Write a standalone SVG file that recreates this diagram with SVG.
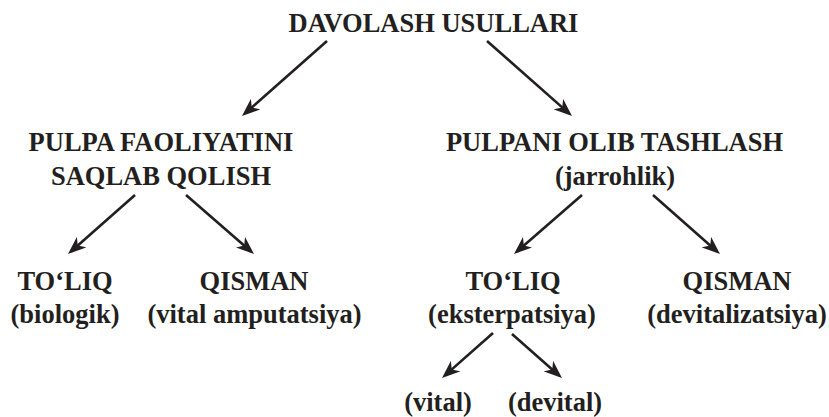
<svg xmlns="http://www.w3.org/2000/svg" width="829" height="417" viewBox="0 0 829 417">
<style>
text{font-family:"Liberation Serif","Times New Roman",serif;font-weight:bold;font-size:26.5px;fill:#231f20;text-anchor:middle}
.c line{stroke:#231f20;stroke-width:2.6;marker-end:url(#ah)}
</style>
<defs>
<marker id="ah" markerUnits="userSpaceOnUse" viewBox="0 -7 18 14" refX="14" refY="0" markerWidth="18" markerHeight="14" orient="auto">
<path d="M0,-7 L18,0 L0,7 L5,0 z" fill="#231f20"/>
</marker>
</defs>
<rect width="829" height="417" fill="#fff"/>
<g id="root"><text x="433.5" y="32">DAVOLASH USULLARI</text></g>
<g id="n-saqlash"><text x="161" y="151">PULPA FAOLIYATINI</text><text x="161" y="185">SAQLAB QOLISH</text></g>
<g id="n-olib"><text x="614.5" y="151">PULPANI OLIB TASHLASH</text><text x="615" y="185">(jarrohlik)</text></g>
<g id="n-toliq1"><text x="65" y="290">TO‘LIQ</text><text x="65" y="323">(biologik)</text></g>
<g id="n-qisman1"><text x="254" y="290">QISMAN</text><text x="254.5" y="323">(vital amputatsiya)</text></g>
<g id="n-toliq2"><text x="513" y="290">TO‘LIQ</text><text x="512" y="323">(eksterpatsiya)</text></g>
<g id="n-qisman2"><text x="737" y="290">QISMAN</text><text x="737" y="323">(devitalizatsiya)</text></g>
<g id="n-vital"><text x="438" y="411">(vital)</text></g>
<g id="n-devital"><text x="555" y="411">(devital)</text></g>
<g class="c" id="connectors">
<line x1="327" y1="41" x2="245" y2="113.4"/>
<line x1="487" y1="41" x2="569" y2="113.4"/>
<line x1="135" y1="195" x2="71" y2="251.4"/>
<line x1="186" y1="195" x2="251" y2="251.4"/>
<line x1="582" y1="195" x2="517" y2="251.4"/>
<line x1="653" y1="195" x2="717" y2="251.4"/>
<line x1="493" y1="333" x2="445" y2="375.4"/>
<line x1="512" y1="334" x2="559" y2="375.4"/>
</g>
</svg>
